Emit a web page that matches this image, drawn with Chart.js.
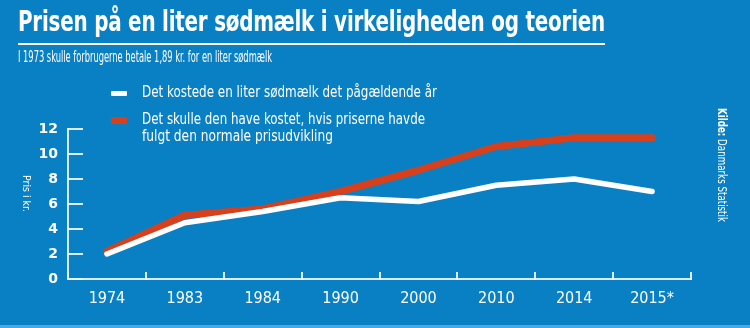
<!DOCTYPE html>
<html lang="da">
<head>
<meta charset="utf-8">
<title>Prisen på en liter sødmælk</title>
<script src="https://cdn.jsdelivr.net/npm/chart.js@4.4.1/dist/chart.umd.min.js"></script>
<style>
  html, body { margin: 0; padding: 0; }
  body { width: 750px; height: 328px; overflow: hidden; background: #0a80c4; }
  #wrap { position: relative; width: 750px; height: 328px; background: #0a80c4;
          font-family: "DejaVu Sans Condensed", "Liberation Sans Narrow", "Roboto", sans-serif; color: #fff; }
  #wrap canvas { position: absolute; left: 0; top: 0; }
  .txt { position: absolute; white-space: nowrap; transform-origin: 0 50%; line-height: 1; }
  #title { left: 18px; top: 7px; font-size: 29px; font-weight: bold; letter-spacing: -0.3px; }
  #rule { position: absolute; left: 18px; top: 43px; width: 587px; height: 2px; background: #fff; }
  #sub { left: 18px; top: 50px; font-size: 15px; }
  .leg { left: 142px; font-size: 15px; }
  .sw { position: absolute; left: 111px; width: 16px; border-radius: 1px; }
  #ytitle { left: 26px; top: 193px; font-size: 11px; transform-origin: 0 0; }
  #src { left: 722px; top: 165px; font-size: 12px; transform-origin: 0 0; }
  #strip { position: absolute; left: 0; top: 325px; width: 750px; height: 3px; background: #49a9e0; }
</style>
</head>
<body>
<div id="wrap">
  <canvas id="chart" width="750" height="328"></canvas>
  <div class="txt" id="title">Prisen på en liter sødmælk i virkeligheden og teorien</div>
  <div id="rule"></div>
  <div class="txt" id="sub">I 1973 skulle forbrugerne betale 1,89 kr. for en liter sødmælk</div>
  <div id="legend"></div>
  <div class="txt" id="ytitle">Pris i kr.</div>
  <div class="txt" id="src"><b>Kilde:</b> Danmarks Statistik</div>
  <div id="strip"></div>
</div>
<script>
// Years on the x axis
const years = ['1974', '1983', '1984', '1990', '2000', '2010', '2014', '2015*'];
// Actual price of a litre of whole milk (kr.)
const actualPrice = [2.0, 4.5, 5.4, 6.5, 6.2, 7.5, 8.0, 7.0];
// Price had it followed general price development (kr.)
const indexedPrice = [2.2, 5.1, 5.6, 7.0, 8.7, 10.6, 11.3, 11.3];
// Y axis ticks
const priceTicks = [0, 2, 4, 6, 8, 10, 12];

const seriesLabels = [
  ['Det kostede en liter sødmælk det pågældende år'],
  ['Det skulle den have kostet, hvis priserne havde', 'fulgt den normale prisudvikling']
];
const seriesColors = ['#ffffff', '#d8401c'];

const condensed = '"DejaVu Sans Condensed", "Liberation Sans Narrow", "Roboto", sans-serif';
const axisColor = 'rgba(235,245,252,0.92)';

// HTML legend built from the series
const legend = document.getElementById('legend');
const legendRows = [[93], [120, 137]];
const swatchY = [93, 120];
const swatchH = [5, 7];
seriesLabels.forEach((lines, i) => {
  const sw = document.createElement('div');
  sw.className = 'sw';
  sw.style.background = seriesColors[i];
  sw.style.height = swatchH[i] + 'px';
  sw.style.top = (swatchY[i] - swatchH[i] / 2) + 'px';
  legend.appendChild(sw);
  lines.forEach((t, j) => {
    const d = document.createElement('div');
    d.className = 'txt leg';
    d.textContent = t;
    d.style.top = (legendRows[i][j] - 8) + 'px';
    legend.appendChild(d);
  });
});

// Squeeze text to a condensed width
function fitWidth(el, w, extra) {
  const nat = el.getBoundingClientRect().width;
  el.style.transform = 'scaleX(' + (w / nat) + ')' + (extra || '');
}
fitWidth(document.getElementById('title'), 587);
fitWidth(document.getElementById('sub'), 254);
const legs = document.querySelectorAll('.leg');
fitWidth(legs[0], 295);
fitWidth(legs[1], 283);
fitWidth(legs[2], 191);

// Rotated labels (read top to bottom)
function rotLabel(id, len, cx, top) {
  const el = document.getElementById(id);
  const r = el.getBoundingClientRect();
  const sx = len / r.width;
  el.style.left = (cx + r.height / 2) + 'px';
  el.style.top = top + 'px';
  el.style.transform = 'rotate(90deg) scaleX(' + sx + ')';
}
rotLabel('ytitle', 37, 26, 175);
rotLabel('src', 114, 722, 108);

new Chart(document.getElementById('chart'), {
  type: 'line',
  data: {
    labels: years,
    datasets: [
      {
        label: seriesLabels[0].join(' '),
        data: actualPrice,
        borderColor: seriesColors[0],
        borderWidth: 5.5,
        pointRadius: 0,
        borderCapStyle: 'round',
        borderJoinStyle: 'round',
        tension: 0
      },
      {
        label: seriesLabels[1].join(' '),
        data: indexedPrice,
        borderColor: seriesColors[1],
        borderWidth: 7,
        pointRadius: 0,
        borderCapStyle: 'round',
        borderJoinStyle: 'round',
        tension: 0
      }
    ]
  },
  options: {
    responsive: false,
    animation: false,
    events: [],
    layout: { padding: { top: 129, right: 59, left: 0, bottom: 0 } },
    plugins: { legend: { display: false }, tooltip: { enabled: false }, title: { display: false } },
    scales: {
      x: {
        type: 'category',
        offset: true,
        grid: { offset: true, drawOnChartArea: false, drawTicks: true, tickLength: -7, color: axisColor, lineWidth: 2 },
        border: { display: true, color: axisColor, width: 2 },
        ticks: { color: '#ffffff', padding: 17, font: { family: condensed, size: 16 }, maxRotation: 0, autoSkip: false },
        afterFit: s => { s.height = 49; }
      },
      y: {
        min: 0,
        max: 12,
        afterBuildTicks: s => { s.ticks = priceTicks.map(v => ({ value: v })); },
        grid: { drawOnChartArea: false, drawTicks: true, tickLength: -15, color: axisColor, lineWidth: 2 },
        border: { display: true, color: axisColor, width: 2 },
        ticks: { color: '#ffffff', padding: 25, font: { family: '"DejaVu Sans", sans-serif', size: 14, weight: 'bold' } },
        afterFit: s => { s.width = 68; }
      }
    }
  }
});
</script>
</body>
</html>
